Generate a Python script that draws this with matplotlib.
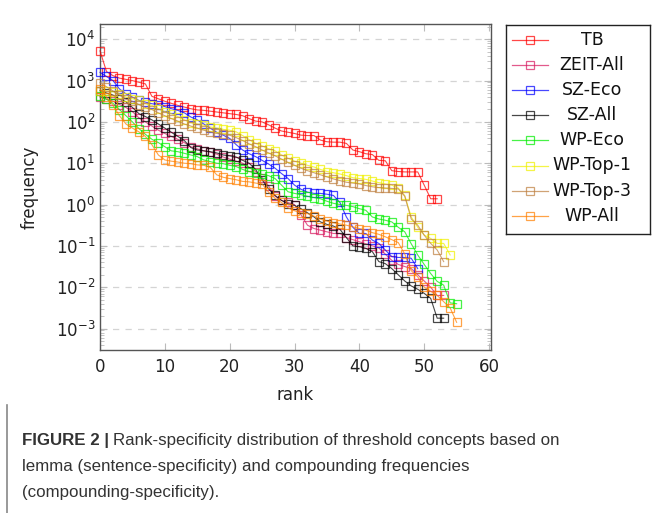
import numpy as np
import matplotlib
matplotlib.use("Agg")
import matplotlib.pyplot as plt
from matplotlib.lines import Line2D

# ---------------- data (log10 of frequency) ----------------
series_names = ["TB", "ZEIT-All", "SZ-Eco", "SZ-All", "WP-Eco", "WP-Top-1", "WP-Top-3", "WP-All"]

tb_log = [3.72, 3.22, 3.12, 3.06, 3.03, 3.00, 2.96, 2.92, 2.62, 2.56, 2.50, 2.45, 2.40, 2.36,
          2.32, 2.29, 2.28, 2.26, 2.24, 2.22, 2.20, 2.18, 2.15, 2.08, 2.02, 2.00, 1.93, 1.85,
          1.78, 1.75, 1.72, 1.68, 1.67, 1.67, 1.56, 1.52, 1.51, 1.51, 1.48, 1.32, 1.28, 1.23,
          1.21, 1.07, 1.06, 0.82, 0.80, 0.79, 0.79, 0.79, 0.47, 0.14, 0.14]

zeit_log = [2.60, 2.55, 2.50, 2.42, 2.35, 2.25, 2.10, 2.00, 1.90, 1.80, 1.72, 1.65, 1.58, 1.50,
            1.40, 1.35, 1.30, 1.27, 1.22, 1.15, 1.10, 1.05, 1.00, 0.90, 0.80, 0.65, 0.45, 0.20,
            0.10, 0.05, 0.00, -0.25, -0.50, -0.58, -0.62, -0.66, -0.70, -0.70, -0.80, -0.85,
            -0.90, -0.95, -1.00, -1.05, -1.20, -1.35, -1.45, -1.50, -1.55, -1.70, -1.85, -2.00,
            -2.20, -2.20]

szeco_log = [3.20, 3.10, 3.00, 2.80, 2.68, 2.60, 2.52, 2.48, 2.44, 2.42, 2.37, 2.32, 2.28, 2.22,
             2.12, 2.05, 1.95, 1.85, 1.75, 1.68, 1.60, 1.45, 1.32, 1.23, 1.16, 1.07, 0.98, 0.88,
             0.75, 0.63, 0.47, 0.37, 0.30, 0.27, 0.27, 0.25, 0.22, 0.05, -0.30, -0.55, -0.70,
             -0.70, -0.86, -0.94, -1.10, -1.26, -1.28, -1.28, -1.30, -1.55]

szall_log = [2.76, 2.70, 2.65, 2.55, 2.49, 2.35, 2.20, 2.13, 2.05, 1.95, 1.85, 1.75, 1.65, 1.55,
             1.38, 1.32, 1.30, 1.28, 1.25, 1.20, 1.18, 1.15, 1.07, 1.00, 0.85, 0.60, 0.38, 0.22,
             0.10, 0.02, -0.02, -0.10, -0.20, -0.30, -0.42, -0.48, -0.52, -0.60, -0.80, -1.00,
             -1.02, -1.06, -1.14, -1.38, -1.43, -1.55, -1.70, -1.85, -1.97, -2.05, -2.15, -2.27,
             -2.75, -2.75]

wpeco_log = [2.62, 2.55, 2.45, 2.30, 2.15, 2.00, 1.84, 1.70, 1.58, 1.50, 1.40, 1.30, 1.28, 1.24,
             1.20, 1.16, 1.08, 1.04, 1.00, 0.99, 0.95, 0.92, 0.85, 0.80, 0.76, 0.73, 0.70, 0.63,
             0.47, 0.31, 0.27, 0.24, 0.20, 0.17, 0.14, 0.08, 0.03, 0.00, -0.02, -0.05, -0.10,
             -0.14, -0.30, -0.35, -0.38, -0.42, -0.55, -0.66, -0.95, -1.22, -1.45, -1.67, -1.86,
             -1.95, -2.38, -2.40]

wptop1_log = [2.75, 2.75, 2.73, 2.68, 2.60, 2.56, 2.52, 2.44, 2.40, 2.32, 2.25, 2.20, 2.13, 2.05,
              1.98, 1.95, 1.92, 1.88, 1.85, 1.82, 1.80, 1.76, 1.67, 1.57, 1.48, 1.42, 1.35, 1.30,
              1.20, 1.12, 1.05, 1.00, 0.95, 0.91, 0.85, 0.80, 0.77, 0.74, 0.70, 0.65, 0.63, 0.61,
              0.57, 0.53, 0.50, 0.47, 0.40, 0.22, -0.30, -0.55, -0.74, -0.82, -0.94, -0.94, -1.22]

wptop3_log = [2.95, 2.85, 2.75, 2.65, 2.55, 2.50, 2.42, 2.35, 2.30, 2.22, 2.15, 2.08, 2.02, 1.95,
              1.90, 1.85, 1.80, 1.76, 1.72, 1.70, 1.68, 1.62, 1.55, 1.47, 1.40, 1.32, 1.25, 1.18,
              1.10, 1.02, 0.95, 0.88, 0.82, 0.77, 0.72, 0.67, 0.62, 0.58, 0.54, 0.52, 0.50, 0.46,
              0.43, 0.41, 0.40, 0.39, 0.38, 0.20, -0.35, -0.50, -0.74, -0.94, -1.10, -1.38]

wpall_log = [2.80, 2.60, 2.40, 2.15, 1.95, 1.85, 1.76, 1.65, 1.45, 1.20, 1.08, 1.05, 1.03, 1.00,
             0.99, 0.96, 0.95, 0.90, 0.72, 0.66, 0.63, 0.60, 0.56, 0.55, 0.52, 0.50, 0.30, 0.15,
             0.05, -0.08, -0.15, -0.20, -0.22, -0.28, -0.35, -0.40, -0.44, -0.47, -0.50, -0.54,
             -0.58, -0.62, -0.68, -0.72, -0.78, -0.85, -0.92, -1.20, -1.60, -1.75, -2.00, -2.10,
             -2.20, -2.35, -2.50, -2.85]

series_logs = [tb_log, zeit_log, szeco_log, szall_log, wpeco_log, wptop1_log, wptop3_log, wpall_log]

x_ticks = [0, 10, 20, 30, 40, 50, 60]
y_tick_exponents = [-3, -2, -1, 0, 1, 2, 3, 4]

caption_bold = "FIGURE 2 |"
caption_lines = ["Rank-specificity distribution of threshold concepts based on",
                 "lemma (sentence-specificity) and compounding frequencies",
                 "(compounding-specificity)."]

# ---------------- style ----------------
colors = ["#ff0000", "#d81b60", "#0000ff", "#000000", "#00ee00", "#f0f000", "#bf8040", "#ff8000"]

W, H = 659, 513
fig = plt.figure(figsize=(W / 100, H / 100), dpi=100)
fig.patch.set_facecolor("white")

ax_l, ax_r, ax_t, ax_b = 100, 491, 24, 350
ax = fig.add_axes([ax_l / W, 1 - ax_b / H, (ax_r - ax_l) / W, (ax_b - ax_t) / H])

MS = 6.2
for name, logs, c in zip(series_names, series_logs, colors):
    vals = 10.0 ** np.asarray(logs)
    ranks = np.arange(len(vals))
    ax.plot(ranks, vals, color=c, lw=0.8, alpha=0.72, marker="s", ms=MS,
            mfc="none", mec=c, mew=0.9, clip_on=False, zorder=3)

ax.set_yscale("log")
ax.set_xlim(0, 60.3)
ax.set_ylim(10 ** -3.52, 10 ** 4.37)

ax.set_xticks(x_ticks)
ax.set_xticklabels([str(t) for t in x_ticks])
ax.set_yticks([10.0 ** e for e in y_tick_exponents])
ax.set_yticklabels([r"$10^{%d}$" % e for e in y_tick_exponents])
ax.yaxis.set_minor_locator(matplotlib.ticker.LogLocator(base=10, subs=np.arange(2, 10)))
ax.yaxis.set_minor_formatter(matplotlib.ticker.NullFormatter())

for e in y_tick_exponents:
    ax.axhline(10.0 ** e, color="#d4d4d4", lw=0.9, ls=(0, (5, 5)), zorder=1)

ax.tick_params(axis="both", which="both", direction="in", top=True, right=True,
               color="#bbbbbb", labelsize=12, labelcolor="#222222")
ax.tick_params(axis="both", which="major", length=5, width=0.8)
ax.tick_params(axis="y", which="minor", length=3, width=0.6)
ax.tick_params(axis="x", which="major", pad=6)
for s in ax.spines.values():
    s.set_color("#555555")
    s.set_linewidth(1.0)

ax.set_xlabel("rank", fontsize=12, color="#222222", labelpad=7)
ax.set_ylabel("frequency", fontsize=12, color="#222222", labelpad=12)

# ---------------- legend (drawn manually, text centred like pgfplots) ----------------
lg_l, lg_r, lg_t, lg_b = 506, 650, 25, 234
lax = fig.add_axes([lg_l / W, 1 - lg_b / H, (lg_r - lg_l) / W, (lg_b - lg_t) / H])
lax.set_xlim(lg_l, lg_r)
lax.set_ylim(lg_b, lg_t)
lax.set_xticks([])
lax.set_yticks([])
for s in lax.spines.values():
    s.set_color("#222222")
    s.set_linewidth(1.0)
row0, dy = 40, 25.1
for i, (name, c) in enumerate(zip(series_names, colors)):
    yy = row0 + i * dy
    lax.plot([512, 548], [yy, yy], color=c, lw=0.9, alpha=0.72)
    lax.plot([530], [yy], marker="s", ms=MS, mfc="none", mec=c, mew=0.9, alpha=0.72)
    lax.text(592, yy, name, ha="center", va="center", fontsize=12.5, color="#111111")

# ---------------- caption ----------------
cap_font = "Liberation Sans"
cap_color = "#333333"
cap_fs = 12.2
cap_x, cap_y0, cap_dy = 22, 440, 26
renderer = fig.canvas.get_renderer()
tb = fig.text(cap_x / W, 1 - cap_y0 / H, caption_bold, fontsize=cap_fs, fontweight="bold",
              family=cap_font, color=cap_color, va="center", ha="left")
bb = tb.get_window_extent(renderer=renderer)
fig.text((bb.x1 + 4) / W, 1 - cap_y0 / H, caption_lines[0], fontsize=cap_fs,
         family=cap_font, color=cap_color, va="center", ha="left")
for k, line in enumerate(caption_lines[1:], start=1):
    fig.text(cap_x / W, 1 - (cap_y0 + k * cap_dy) / H, line, fontsize=cap_fs,
             family=cap_font, color=cap_color, va="center", ha="left")

fig.add_artist(Line2D([7 / W, 7 / W], [0, 1 - 405 / H], color="#888888", lw=1.2))

fig.savefig("out.png", dpi=100, facecolor="white")
